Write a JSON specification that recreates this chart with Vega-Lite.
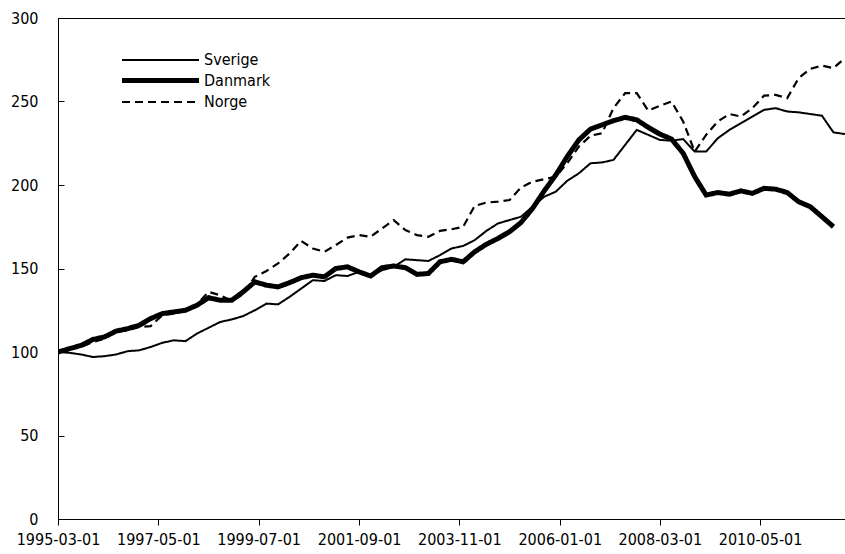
{
  "$schema": "https://vega.github.io/schema/vega-lite/v6.json",
  "width": 787,
  "height": 501,
  "autosize": "none",
  "padding": {"left": 58, "top": 18, "right": 0, "bottom": 35},
  "background": "white",
  "config": {
    "view": {"stroke": "black", "strokeWidth": 1},
    "font": "DejaVu Sans Condensed",
    "axis": {"labelFont": "DejaVu Sans Condensed", "labelColor": "black", "domainColor": "black", "tickColor": "black", "labelFontSize": 16, "grid": false, "title": null}
  },
  "data": {
    "values": [
      {"d": "1995-03-01", "Sverige": 100, "Danmark": 100, "Norge": 100},
      {"d": "1995-06-01", "Sverige": 99.5, "Danmark": 102, "Norge": 102.5},
      {"d": "1995-09-01", "Sverige": 98.5, "Danmark": 104, "Norge": 103},
      {"d": "1995-12-01", "Sverige": 97, "Danmark": 107.5, "Norge": 106},
      {"d": "1996-03-01", "Sverige": 97.5, "Danmark": 109, "Norge": 108},
      {"d": "1996-06-01", "Sverige": 98.5, "Danmark": 112.5, "Norge": 112},
      {"d": "1996-09-01", "Sverige": 100.5, "Danmark": 114, "Norge": 113},
      {"d": "1996-12-01", "Sverige": 101, "Danmark": 116, "Norge": 115},
      {"d": "1997-03-01", "Sverige": 103, "Danmark": 120, "Norge": 115.5},
      {"d": "1997-06-01", "Sverige": 105.5, "Danmark": 123, "Norge": 122},
      {"d": "1997-09-01", "Sverige": 107, "Danmark": 124, "Norge": 123},
      {"d": "1997-12-01", "Sverige": 106.5, "Danmark": 125, "Norge": 124.5},
      {"d": "1998-03-01", "Sverige": 111, "Danmark": 128, "Norge": 128.5},
      {"d": "1998-06-01", "Sverige": 114.5, "Danmark": 132.5, "Norge": 136},
      {"d": "1998-09-01", "Sverige": 118, "Danmark": 131, "Norge": 134},
      {"d": "1998-12-01", "Sverige": 119.5, "Danmark": 131, "Norge": 130.5},
      {"d": "1999-03-01", "Sverige": 121.5, "Danmark": 136, "Norge": 134.5},
      {"d": "1999-06-01", "Sverige": 125, "Danmark": 142, "Norge": 145},
      {"d": "1999-09-01", "Sverige": 129, "Danmark": 140, "Norge": 148.5},
      {"d": "1999-12-01", "Sverige": 128.5, "Danmark": 139, "Norge": 153},
      {"d": "2000-03-01", "Sverige": 133, "Danmark": 141.5, "Norge": 159},
      {"d": "2000-06-01", "Sverige": 138, "Danmark": 144.5, "Norge": 166.5},
      {"d": "2000-09-01", "Sverige": 143, "Danmark": 146, "Norge": 162},
      {"d": "2000-12-01", "Sverige": 142.5, "Danmark": 145, "Norge": 160},
      {"d": "2001-03-01", "Sverige": 146, "Danmark": 150, "Norge": 164},
      {"d": "2001-06-01", "Sverige": 145.5, "Danmark": 151, "Norge": 168.5},
      {"d": "2001-09-01", "Sverige": 148, "Danmark": 148, "Norge": 170},
      {"d": "2001-12-01", "Sverige": 145.5, "Danmark": 145.5, "Norge": 169},
      {"d": "2002-03-01", "Sverige": 149, "Danmark": 150.5, "Norge": 174},
      {"d": "2002-06-01", "Sverige": 151, "Danmark": 151.5, "Norge": 179},
      {"d": "2002-09-01", "Sverige": 155.5, "Danmark": 150.5, "Norge": 173},
      {"d": "2002-12-01", "Sverige": 155, "Danmark": 146.5, "Norge": 170},
      {"d": "2003-03-01", "Sverige": 154.5, "Danmark": 147, "Norge": 169},
      {"d": "2003-06-01", "Sverige": 158, "Danmark": 154, "Norge": 172.5},
      {"d": "2003-09-01", "Sverige": 162, "Danmark": 155.5, "Norge": 173.5},
      {"d": "2003-12-01", "Sverige": 163.5, "Danmark": 154, "Norge": 175},
      {"d": "2004-03-01", "Sverige": 167, "Danmark": 160, "Norge": 187.5},
      {"d": "2004-06-01", "Sverige": 172.5, "Danmark": 164.5, "Norge": 189.5},
      {"d": "2004-09-01", "Sverige": 177, "Danmark": 168, "Norge": 190},
      {"d": "2004-12-01", "Sverige": 179, "Danmark": 172, "Norge": 191},
      {"d": "2005-03-01", "Sverige": 181, "Danmark": 177.5, "Norge": 198.5},
      {"d": "2005-06-01", "Sverige": 187, "Danmark": 186, "Norge": 202},
      {"d": "2005-09-01", "Sverige": 193, "Danmark": 196.5, "Norge": 203.5},
      {"d": "2005-12-01", "Sverige": 196, "Danmark": 206, "Norge": 205},
      {"d": "2006-03-01", "Sverige": 202.5, "Danmark": 217, "Norge": 213},
      {"d": "2006-06-01", "Sverige": 207, "Danmark": 227, "Norge": 223},
      {"d": "2006-09-01", "Sverige": 213, "Danmark": 233.5, "Norge": 229.5},
      {"d": "2006-12-01", "Sverige": 213.5, "Danmark": 236, "Norge": 231},
      {"d": "2007-03-01", "Sverige": 215, "Danmark": 238.5, "Norge": 246},
      {"d": "2007-06-01", "Sverige": 224, "Danmark": 240.5, "Norge": 255},
      {"d": "2007-09-01", "Sverige": 233, "Danmark": 239, "Norge": 255},
      {"d": "2007-12-01", "Sverige": 230, "Danmark": 234.5, "Norge": 244.5},
      {"d": "2008-03-01", "Sverige": 227, "Danmark": 230.5, "Norge": 247.5},
      {"d": "2008-06-01", "Sverige": 226.5, "Danmark": 227.5, "Norge": 250},
      {"d": "2008-09-01", "Sverige": 227.5, "Danmark": 219, "Norge": 238},
      {"d": "2008-12-01", "Sverige": 220, "Danmark": 205, "Norge": 220},
      {"d": "2009-03-01", "Sverige": 220, "Danmark": 194, "Norge": 230},
      {"d": "2009-06-01", "Sverige": 228, "Danmark": 195.5, "Norge": 238},
      {"d": "2009-09-01", "Sverige": 233, "Danmark": 194.5, "Norge": 242.5},
      {"d": "2009-12-01", "Sverige": 237, "Danmark": 196.5, "Norge": 241},
      {"d": "2010-03-01", "Sverige": 241, "Danmark": 195, "Norge": 246},
      {"d": "2010-06-01", "Sverige": 245, "Danmark": 198, "Norge": 253.5},
      {"d": "2010-09-01", "Sverige": 246, "Danmark": 197.5, "Norge": 254},
      {"d": "2010-12-01", "Sverige": 244, "Danmark": 195.5, "Norge": 252},
      {"d": "2011-03-01", "Sverige": 243.5, "Danmark": 190, "Norge": 264},
      {"d": "2011-06-01", "Sverige": 242.5, "Danmark": 187, "Norge": 269.5},
      {"d": "2011-09-01", "Sverige": 241.5, "Danmark": 181, "Norge": 271.5},
      {"d": "2011-12-01", "Sverige": 231.5, "Danmark": 175, "Norge": 270},
      {"d": "2012-03-01", "Sverige": 230.5, "Danmark": null, "Norge": 276}
    ],
    "format": {"parse": {"d": "date:'%Y-%m-%d'"}}
  },
  "transform": [
    {"fold": ["Sverige", "Danmark", "Norge"], "as": ["land", "v"]},
    {"filter": "isValid(datum.v)"}
  ],
  "mark": {"type": "line", "color": "black", "clip": true},
  "encoding": {
    "x": {
      "field": "d", "type": "temporal",
      "scale": {"domain": [{"year": 1995, "month": 3, "date": 1}, {"year": 2012, "month": 3, "date": 1}]},
      "axis": {
        "values": [
          {"year": 1995, "month": 3, "date": 1},
          {"year": 1997, "month": 5, "date": 1},
          {"year": 1999, "month": 7, "date": 1},
          {"year": 2001, "month": 9, "date": 1},
          {"year": 2003, "month": 11, "date": 1},
          {"year": 2006, "month": 1, "date": 1},
          {"year": 2008, "month": 3, "date": 1},
          {"year": 2010, "month": 5, "date": 1}
        ],
        "format": "%Y-%m-%d",
        "tickSize": 6,
        "labelPadding": 6,
        "labelFlush": false,
        "labelOverlap": false
      }
    },
    "y": {
      "field": "v", "type": "quantitative",
      "scale": {"domain": [0, 300], "nice": false, "zero": true},
      "axis": {"values": [0, 50, 100, 150, 200, 250, 300], "tickSize": -6, "labelPadding": 26}
    },
    "detail": {"field": "land"},
    "strokeWidth": {
      "field": "land", "type": "nominal",
      "scale": {"type": "ordinal", "domain": ["Sverige", "Danmark", "Norge"], "range": [2, 5, 2.2]},
      "legend": {
        "orient": "none", "legendX": 92, "legendY": 33, "title": null,
        "symbolType": "M-5,0H5", "symbolSize": 237, "symbolStrokeColor": "black",
        "labelFont": "DejaVu Sans Condensed", "labelFontSize": 16, "labelColor": "black",
        "labelOffset": 33, "rowPadding": 2, "padding": 0
      }
    },
    "strokeDash": {
      "field": "land", "type": "nominal",
      "scale": {"domain": ["Sverige", "Danmark", "Norge"], "range": [[1, 0], [1, 0], [8, 5]]},
      "legend": {
        "orient": "none", "legendX": 92, "legendY": 33, "title": null,
        "symbolType": "M-5,0H5", "symbolSize": 237, "symbolStrokeColor": "black",
        "labelFont": "DejaVu Sans Condensed", "labelFontSize": 16, "labelColor": "black",
        "labelOffset": 33, "rowPadding": 2, "padding": 0
      }
    }
  }
}
